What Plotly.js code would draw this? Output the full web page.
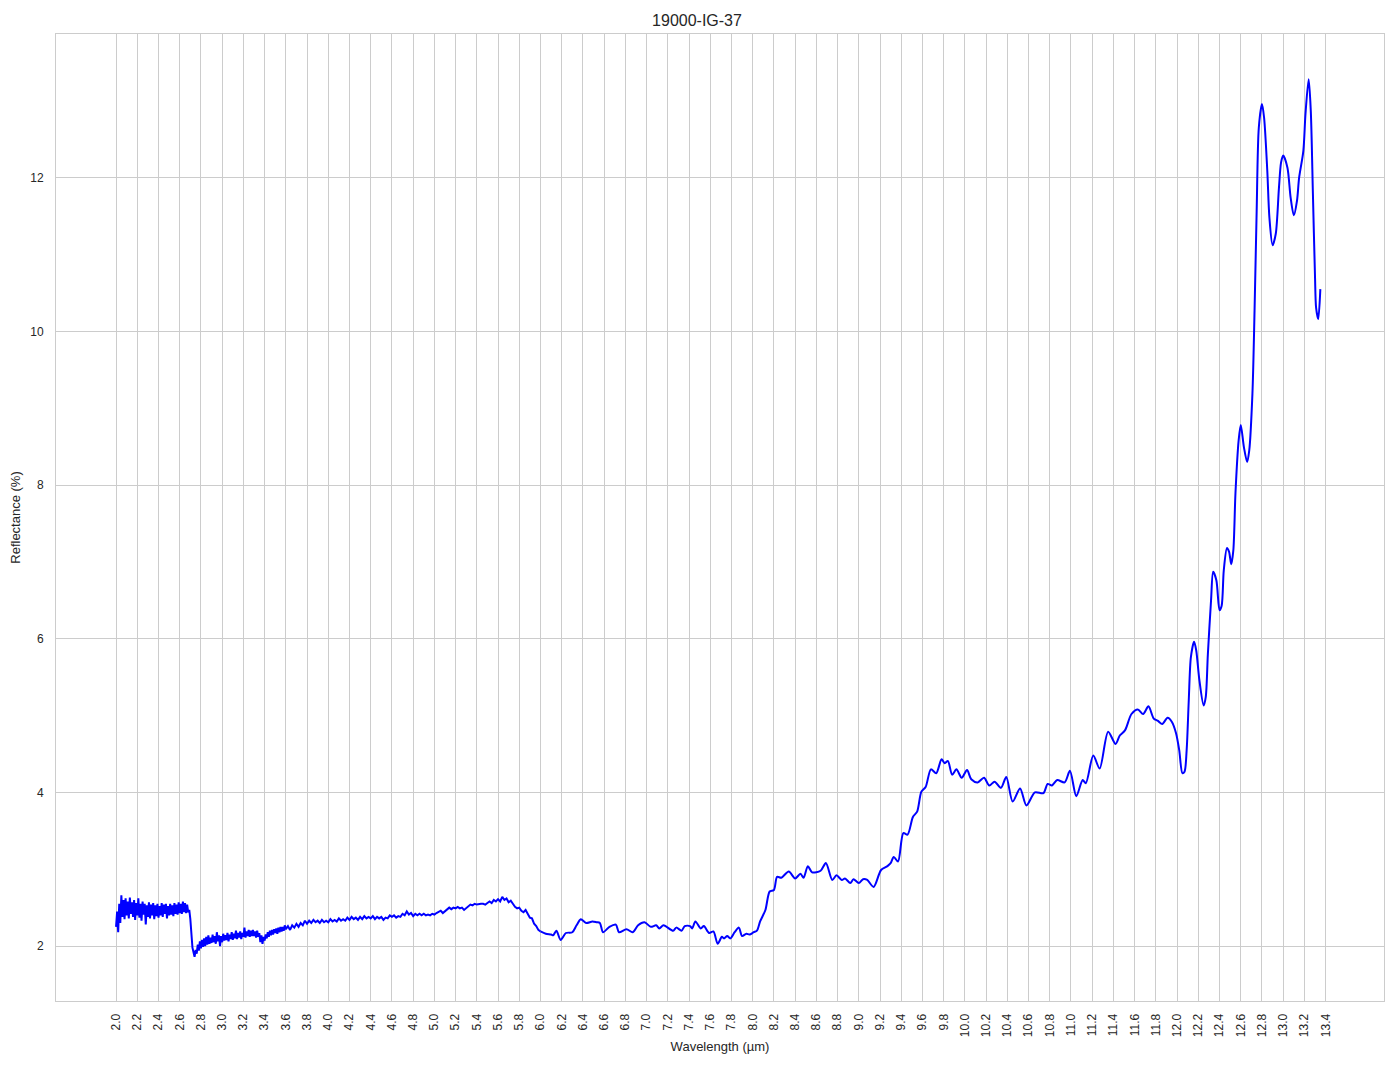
<!DOCTYPE html>
<html>
<head>
<meta charset="utf-8">
<script src="https://cdn.plot.ly/plotly-3.0.1.min.js"></script>
<style>html,body{margin:0;padding:0;background:#fff;}#chart{width:1394px;height:1069px;}</style>
</head>
<body>
<div id="chart"></div>
<script>
// Segment A: noisy plateau (2.00 - 2.69 µm)
const wlA = [2.00,2.01,2.02,2.03,2.04,2.05,2.06,2.07,2.08,2.09,2.10,2.11,2.12,2.13,2.14,2.15,2.16,2.17,2.18,2.19,
  2.20,2.21,2.22,2.23,2.24,2.25,2.26,2.27,2.28,2.29,2.30,2.31,2.32,2.33,2.34,2.35,2.36,2.37,2.38,2.39,
  2.40,2.41,2.42,2.43,2.44,2.45,2.46,2.47,2.48,2.49,2.50,2.51,2.52,2.53,2.54,2.55,2.56,2.57,2.58,2.59,
  2.60,2.61,2.62,2.63,2.64,2.65,2.66,2.67,2.68,2.69];
const rA = [2.25,2.45,2.18,2.55,2.30,2.66,2.38,2.60,2.35,2.62,2.40,2.58,2.36,2.63,2.42,2.57,2.38,2.60,2.34,2.56,
  2.40,2.62,2.37,2.55,2.33,2.58,2.41,2.55,2.28,2.53,2.38,2.57,2.36,2.54,2.40,2.56,2.35,2.53,2.39,2.55,
  2.37,2.52,2.40,2.56,2.38,2.54,2.42,2.55,2.36,2.52,2.40,2.55,2.41,2.53,2.39,2.56,2.42,2.54,2.41,2.57,
  2.43,2.55,2.42,2.58,2.44,2.56,2.43,2.54,2.44,2.47];

// Segment B: drop and noisy rise (2.70 - 3.60 µm)
const wlB = [2.70,2.71,2.72,2.73,2.74,2.75,2.76,2.77,2.78,2.79,2.80,2.81,2.82,2.83,2.84,2.85,2.86,2.87,2.88,2.89,
  2.90,2.91,2.92,2.93,2.94,2.95,2.96,2.97,2.98,2.99,3.00,3.01,3.02,3.03,3.04,3.05,3.06,3.07,3.08,3.09,
  3.10,3.11,3.12,3.13,3.14,3.15,3.16,3.17,3.18,3.19,3.20,3.21,3.22,3.23,3.24,3.25,3.26,3.27,3.28,3.29,
  3.30,3.31,3.32,3.33,3.34,3.35,3.36,3.37,3.38,3.39,3.40,3.41,3.42,3.43,3.44,3.45,3.46,3.47,3.48,3.49,
  3.50,3.51,3.52,3.53,3.54,3.55,3.56,3.57,3.58,3.59,3.60];
const rB = [2.35,2.12,1.98,1.92,1.86,1.95,1.90,2.02,1.94,2.06,1.97,2.08,1.99,2.10,2.00,2.12,2.02,2.14,2.03,2.11,
  2.04,2.15,2.05,2.13,2.03,2.18,2.06,2.14,2.00,2.13,2.05,2.16,2.07,2.14,2.08,2.17,2.06,2.15,2.09,2.18,
  2.08,2.16,2.10,2.20,2.09,2.17,2.11,2.19,2.09,2.17,2.12,2.24,2.11,2.19,2.13,2.21,2.12,2.20,2.13,2.21,
  2.13,2.19,2.11,2.20,2.12,2.17,2.05,2.14,2.03,2.12,2.07,2.15,2.10,2.18,2.12,2.20,2.14,2.21,2.15,2.22,
  2.17,2.23,2.16,2.24,2.18,2.25,2.19,2.25,2.20,2.27,2.22];

// Segment C: slow rise with small noise (3.62 - 6.00 µm)
const wlC = [3.62,3.64,3.66,3.68,3.70,3.72,3.74,3.76,3.78,3.80,3.82,3.84,3.86,3.88,3.90,3.92,3.94,3.96,3.98,4.00,
  4.02,4.04,4.06,4.08,4.10,4.12,4.14,4.16,4.18,4.20,4.22,4.24,4.26,4.28,4.30,4.32,4.34,4.36,4.38,4.40,
  4.42,4.44,4.46,4.48,4.50,4.52,4.54,4.56,4.58,4.60,4.62,4.64,4.66,4.68,4.70,4.72,4.74,4.76,4.78,4.80,
  4.82,4.84,4.86,4.88,4.90,4.92,4.94,4.96,4.98,5.00,5.02,5.04,5.06,5.08,5.10,5.12,5.14,5.16,5.18,5.20,
  5.22,5.24,5.26,5.28,5.30,5.32,5.34,5.36,5.38,5.40,5.42,5.44,5.46,5.48,5.50,5.52,5.54,5.56,5.58,5.60,
  5.62,5.64,5.66,5.68,5.70,5.72,5.74,5.76,5.78,5.80,5.82,5.84,5.86,5.88,5.90,5.92,5.94,5.96,5.98,6.00];
const rC = [2.26,2.21,2.27,2.24,2.29,2.25,2.30,2.27,2.33,2.29,2.33,2.30,2.34,2.31,2.33,2.30,2.34,2.31,2.33,2.31,
  2.35,2.32,2.34,2.32,2.36,2.33,2.35,2.33,2.37,2.34,2.38,2.35,2.37,2.34,2.38,2.35,2.39,2.36,2.38,2.36,
  2.39,2.35,2.38,2.36,2.38,2.34,2.37,2.36,2.40,2.38,2.40,2.37,2.39,2.38,2.42,2.40,2.45,2.41,2.43,2.39,
  2.42,2.40,2.42,2.40,2.42,2.40,2.41,2.40,2.42,2.41,2.43,2.44,2.46,2.43,2.45,2.47,2.50,2.48,2.50,2.49,
  2.51,2.49,2.50,2.47,2.49,2.51,2.54,2.53,2.55,2.54,2.55,2.55,2.55,2.54,2.56,2.58,2.56,2.60,2.58,2.61,
  2.58,2.64,2.60,2.62,2.57,2.59,2.55,2.51,2.49,2.50,2.46,2.44,2.47,2.42,2.37,2.36,2.29,2.26,2.21,2.19];

// Segment D: smoother long-wave part (6.00 - 13.35 µm)
const wlD = [6.00,6.05,6.10,6.12,6.15,6.19,6.24,6.30,6.34,6.38,6.43,6.49,6.53,6.56,6.59,6.65,6.71,6.74,6.81,6.87,6.92,
  6.98,7.04,7.09,7.12,7.16,7.25,7.28,7.33,7.36,7.41,7.43,7.46,7.51,7.54,7.59,7.63,7.67,7.71,7.73,7.76,
  7.79,7.83,7.87,7.90,7.94,7.97,8.01,8.04,8.07,8.12,8.16,8.20,8.23,8.27,8.34,8.40,8.45,8.48,8.52,8.56,
  8.64,8.69,8.75,8.79,8.84,8.87,8.92,8.95,9.00,9.04,9.08,9.14,9.21,9.27,9.30,9.33,9.37,9.42,9.46,9.51,
  9.55,9.59,9.63,9.68,9.73,9.78,9.81,9.84,9.88,9.92,9.97,10.02,10.06,10.12,10.18,10.23,10.28,10.34,10.39,10.45,
  10.52,10.58,10.66,10.74,10.78,10.82,10.87,10.94,10.99,11.05,11.11,11.14,11.21,11.27,11.35,11.42,11.46,11.51,11.57,11.63,
  11.68,11.73,11.78,11.82,11.86,11.91,11.95,11.99,12.02,12.05,12.07,12.09,12.11,12.13,12.16,12.18,12.21,12.25,12.27,12.29,
  12.32,12.34,12.37,12.40,12.42,12.44,12.47,12.49,12.51,12.53,12.55,12.58,12.60,12.63,12.66,12.68,12.71,12.73,12.75,12.77,
  12.80,12.82,12.85,12.87,12.90,12.93,12.96,12.98,13.00,13.04,13.07,13.10,13.13,13.15,13.19,13.21,13.24,13.26,13.28,13.30,
  13.31,13.33,13.35];
const rD = [2.19,2.16,2.15,2.14,2.20,2.08,2.17,2.18,2.27,2.35,2.30,2.32,2.31,2.30,2.18,2.25,2.28,2.18,2.22,2.18,2.27,
  2.31,2.25,2.27,2.23,2.27,2.20,2.24,2.20,2.26,2.26,2.23,2.32,2.23,2.26,2.17,2.19,2.03,2.12,2.10,2.13,
  2.10,2.18,2.24,2.13,2.16,2.15,2.18,2.20,2.32,2.47,2.71,2.73,2.90,2.89,2.97,2.88,2.94,2.89,3.04,2.96,
  2.98,3.08,2.86,2.92,2.86,2.88,2.82,2.87,2.82,2.87,2.86,2.77,2.99,3.04,3.08,3.16,3.10,3.47,3.45,3.68,
  3.75,4.01,4.07,4.30,4.25,4.43,4.38,4.41,4.23,4.30,4.19,4.29,4.17,4.13,4.19,4.09,4.14,4.06,4.20,3.88,
  4.05,3.83,4.00,3.99,4.11,4.09,4.16,4.13,4.28,3.95,4.16,4.12,4.48,4.31,4.79,4.63,4.74,4.81,5.02,5.08,
  5.02,5.12,4.96,4.93,4.89,4.97,4.92,4.77,4.55,4.25,4.27,4.55,5.20,5.76,5.96,5.85,5.46,5.13,5.24,5.80,
  6.50,6.87,6.76,6.37,6.43,6.89,7.18,7.13,6.97,7.15,7.89,8.58,8.78,8.49,8.30,8.45,9.19,10.27,11.57,12.65,
  12.96,12.78,12.09,11.48,11.12,11.27,11.87,12.20,12.29,12.13,11.74,11.51,11.70,12.00,12.35,12.83,13.28,12.87,11.79,10.70,
  10.31,10.16,10.55];

const xTickVals = [2.0,2.2,2.4,2.6,2.8,3.0,3.2,3.4,3.6,3.8,4.0,4.2,4.4,4.6,4.8,5.0,5.2,5.4,5.6,5.8,
  6.0,6.2,6.4,6.6,6.8,7.0,7.2,7.4,7.6,7.8,8.0,8.2,8.4,8.6,8.8,9.0,9.2,9.4,9.6,9.8,
  10.0,10.2,10.4,10.6,10.8,11.0,11.2,11.4,11.6,11.8,12.0,12.2,12.4,12.6,12.8,13.0,13.2,13.4];
const yTickVals = [2,4,6,8,10,12];

const wlNoisy = [].concat(wlA, wlB, wlC);
const rNoisy = [].concat(rA, rB, rC);

const traces = [
  {x: wlNoisy, y: rNoisy, type: 'scatter', mode: 'lines',
   line: {color: '#0000ff', width: 2}, hoverinfo: 'skip'},
  {x: wlD, y: rD, type: 'scatter', mode: 'lines',
   line: {color: '#0000ff', width: 2, shape: 'spline', smoothing: 0.8}, hoverinfo: 'skip'}
];

const gridCol = '#cccccc';
const fontFam = 'Liberation Sans, Arial, sans-serif';
const layout = {
  width: 1394, height: 1069,
  margin: {l: 56, r: 10, t: 34, b: 68, pad: 0},
  paper_bgcolor: '#ffffff', plot_bgcolor: '#ffffff',
  showlegend: false,
  font: {family: fontFam, color: '#262626', size: 12},
  title: {text: '19000-IG-37', font: {family: fontFam, size: 16, color: '#262626'}, x: 0.5, xanchor: 'center', y: 1 - 20/1069, yanchor: 'middle'},
  xaxis: {
    range: [1.434, 13.95], tickmode: 'array', tickvals: xTickVals,
    ticktext: xTickVals.map(v => v.toFixed(1)), tickangle: -90,
    showgrid: true, gridcolor: gridCol, gridwidth: 1, zeroline: false,
    showline: true, linecolor: gridCol, linewidth: 1, mirror: true,
    ticks: '', ticklabelstandoff: 7,
    tickfont: {family: fontFam, size: 12, color: '#262626'},
    title: {text: 'Wavelength (µm)', font: {family: fontFam, size: 13, color: '#262626'}, standoff: 5}
  },
  yaxis: {
    range: [1.285, 13.87], tickmode: 'array', tickvals: yTickVals,
    showgrid: true, gridcolor: gridCol, gridwidth: 1, zeroline: false,
    showline: true, linecolor: gridCol, linewidth: 1, mirror: true,
    ticks: '', ticklabelstandoff: 9,
    tickfont: {family: fontFam, size: 12, color: '#262626'},
    title: {text: 'Reflectance (%)', font: {family: fontFam, size: 13, color: '#262626'}, standoff: 6}
  }
};

Plotly.newPlot('chart', traces, layout, {displayModeBar: false, staticPlot: true});
</script>
</body>
</html>
